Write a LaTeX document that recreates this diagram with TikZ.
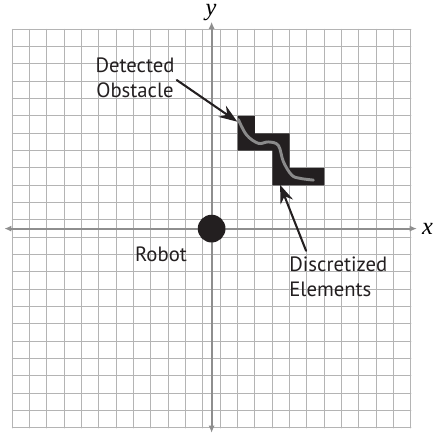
\documentclass[tikz,border=0pt]{standalone}
\usepackage{fontspec}
\setsansfont{PT Sans}
\newfontfamily\axisfont{Liberation Serif}
\usetikzlibrary{arrows.meta}
\definecolor{gridcolor}{HTML}{B4B4B4}
\definecolor{axiscolor}{HTML}{8E8E8E}
\definecolor{blockcolor}{HTML}{231F20}
\definecolor{pathcolor}{HTML}{8A8A8A}

\begin{document}
\begin{tikzpicture}[x=0.5cm,y=0.5cm,line cap=round,line join=round,
    label/.style={font=\sffamily\fontsize{17}{20.5}\selectfont,text=blockcolor,inner sep=0pt},
    axislabel/.style={font=\axisfont\itshape\fontsize{20}{20}\selectfont,inner sep=0pt},
    pointer/.style={blockcolor,line width=1.7pt,-{Stealth[length=15pt,width=11pt,inset=5pt]}}]
  \useasboundingbox (-0.71,-0.35) rectangle (24.33,24.69);
  % grid
  \foreach \i in {0,...,23}{
    \draw[gridcolor,line width=0.8pt] (\i,0)--(\i,23);
    \draw[gridcolor,line width=0.8pt] (0,\i)--(23,\i);
  }
  % axes
  \coordinate (xl) at (-0.47,11.5);
  \coordinate (xr) at (23.35,11.5);
  \coordinate (yb) at (11.5,-0.29);
  \coordinate (yt) at (11.5,23.44);
  \draw[axiscolor,line width=1.5pt,{Latex[length=6pt,width=5pt]}-{Latex[length=6pt,width=5pt]}] (xl)--(xr);
  \draw[axiscolor,line width=1.5pt,{Latex[length=6pt,width=5pt]}-{Latex[length=6pt,width=5pt]}] (yb)--(yt);
  \node[axislabel] (xlab) at (23.95,11.5) {x};
  \node[axislabel,anchor=base] (ylab) at (11.47,23.78) {y};
  % discretized elements
  \fill[blockcolor] (13,18)--(14,18)--(14,17)--(16,17)--(16,15)--(18,15)--(18,14)
    --(15,14)--(15,16)--(13,16)--cycle;
  % detected obstacle
  \draw[pathcolor,line width=2.4pt] plot[smooth,tension=0.6] coordinates
    {(13.04,17.8) (13.52,16.9) (14.2,16.42) (14.77,16.5) (15.35,16.3) (15.64,15.36)
     (16.12,14.59) (16.6,14.4) (17.37,14.3)};
  % robot
  \fill[blockcolor] (11.5,11.5) circle[radius=0.8];
  % labels
  \node[label,align=center] (obs) at (7.08,20.22) {Detected\\Obstacle};
  \node[label] (robot) at (8.58,10.0) {Robot};
  \node[label,align=left] (elem) at (18.81,8.71) {Discretized\\Elements};
  % pointers
  \coordinate (obsTail) at (9.49,20.07);
  \coordinate (obsTip) at (12.98,17.67);
  \coordinate (elemTail) at (16.95,10.22);
  \coordinate (elemTip) at (15.45,14.02);
  \draw[pointer] (obsTail)--(obsTip);
  \draw[pointer] (elemTail)--(elemTip);
\end{tikzpicture}
\end{document}
